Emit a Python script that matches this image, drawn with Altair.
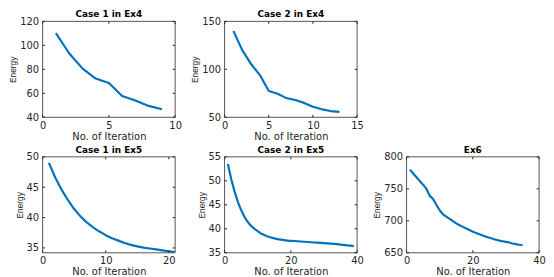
import altair as alt
import pandas as pd

# ---------------- data ----------------
c1_ex4_iter = list(range(1, 10))
c1_ex4_energy = [110.2, 93.4, 80.8, 72.3, 68.6, 57.8, 54.0, 49.5, 46.7]

c2_ex4_iter = list(range(1, 14))
c2_ex4_energy = [140.0, 120.0, 105.5, 94.0, 77.4, 74.5, 70.0, 68.0, 65.0, 61.0, 58.3, 56.5, 55.7]

c1_ex5_iter = list(range(1, 22))
c1_ex5_energy = [49.0, 46.6, 44.6, 42.9, 41.4, 40.2, 39.2, 38.4, 37.7, 37.1, 36.6,
                 36.2, 35.8, 35.5, 35.25, 35.05, 34.9, 34.75, 34.6, 34.45, 34.3]

c2_ex5_iter = list(range(1, 40))
c2_ex5_energy = [53.5, 50.4, 47.8, 45.6, 43.9, 42.5, 41.4, 40.6, 40.0, 39.5,
                 39.0, 38.7, 38.4, 38.2, 38.0, 37.85, 37.75, 37.65, 37.55, 37.5,
                 37.45, 37.4, 37.35, 37.3, 37.25, 37.2, 37.15, 37.1, 37.05, 37.0,
                 36.95, 36.9, 36.85, 36.8, 36.7, 36.65, 36.55, 36.5, 36.4]

ex6_iter = list(range(1, 36))
ex6_energy = [780.0, 774.0, 768.0, 762.0, 756.5, 750.0, 739.0, 734.0, 725.0, 716.5,
              710.0, 706.5, 703.0, 699.5, 696.0, 693.0, 690.5, 688.0, 685.5, 683.0,
              681.0, 679.0, 677.0, 675.0, 673.5, 672.0, 670.5, 669.0, 668.0, 667.0,
              666.0, 664.5, 663.5, 662.5, 662.0]

titles = ["Case 1 in Ex4", "Case 2 in Ex4", "Case 1 in Ex5", "Case 2 in Ex5", "Ex6"]
x_titles = "No. of Iteration"
y_titles = "Energy"

x_domains = [[0, 10], [0, 15], [0, 21], [0, 40], [0, 40]]
x_ticks = [[0, 5, 10], [0, 5, 10, 15], [0, 10, 20], [0, 20, 40], [0, 20, 40]]
y_domains = [[40, 120], [50, 150], [34.2, 50], [35, 55], [650, 800]]
y_ticks = [[40, 60, 80, 100, 120], [50, 100, 150], [35, 40, 45, 50],
           [35, 40, 45, 50, 55], [650, 700, 750, 800]]

# ---------------- style ----------------
BLUE = "#0072BD"
AX = "#262626"
FRAME = "#555555"
FONT = "DejaVu Sans"
W = 134
H = 97
TL = 2.5  # inward tick length


def panel(it, en, k):
    df = pd.DataFrame({"it": it, "en": en})
    x0, x1 = x_domains[k]
    y0, y1 = y_domains[k]
    xs = alt.Scale(domain=x_domains[k], nice=False, zero=False)
    ys = alt.Scale(domain=y_domains[k], nice=False, zero=False)
    xa = alt.Axis(
        values=x_ticks[k], orient="bottom", title=x_titles,
        domain=False, ticks=False, grid=False,
        labelFont=FONT, labelFontSize=10, labelColor=AX, labelPadding=3,
        labelFlush=False, labelOverlap=False,
        titleFont=FONT, titleFontSize=10, titleFontWeight="normal",
        titleColor=AX, titlePadding=1)
    ya = alt.Axis(
        values=y_ticks[k], orient="left", title=y_titles,
        domain=False, ticks=False, grid=False,
        labelFont=FONT, labelFontSize=10, labelColor=AX, labelPadding=4,
        labelFlush=False, labelOverlap=False,
        titleFont="Liberation Sans", titleFontSize=8.5,
        titleFontWeight="normal", titleColor=AX, titlePadding=2)

    line = alt.Chart(df).mark_line(color=BLUE, strokeWidth=2.2, strokeJoin="round",
                                   clip=True).encode(
        x=alt.X("it:Q", scale=xs, axis=xa),
        y=alt.Y("en:Q", scale=ys, axis=ya),
    )

    # box around the plot area (axes limits)
    box = alt.Chart(pd.DataFrame({"a": [0]})).mark_rect(
        fill="transparent", stroke=FRAME, strokeWidth=1
    ).encode(
        x=alt.datum(x0, scale=xs, axis=xa), x2=alt.datum(x1),
        y=alt.datum(y0, scale=ys, axis=ya), y2=alt.datum(y1),
    )

    xt = pd.DataFrame({"t": x_ticks[k]})
    yt = pd.DataFrame({"t": y_ticks[k]})
    tick_bottom = alt.Chart(xt).mark_rule(color=AX, strokeWidth=1, y2Offset=-TL).encode(
        x=alt.X("t:Q", scale=xs, axis=xa),
        y=alt.datum(y0, scale=ys, axis=ya), y2=alt.datum(y0))
    tick_top = alt.Chart(xt).mark_rule(color=AX, strokeWidth=1, y2Offset=TL).encode(
        x=alt.X("t:Q", scale=xs, axis=xa),
        y=alt.datum(y1, scale=ys, axis=ya), y2=alt.datum(y1))
    tick_left = alt.Chart(yt).mark_rule(color=AX, strokeWidth=1, x2Offset=TL).encode(
        y=alt.Y("t:Q", scale=ys, axis=ya),
        x=alt.datum(x0, scale=xs, axis=xa), x2=alt.datum(x0))
    tick_right = alt.Chart(yt).mark_rule(color=AX, strokeWidth=1, x2Offset=-TL).encode(
        y=alt.Y("t:Q", scale=ys, axis=ya),
        x=alt.datum(x1, scale=xs, axis=xa), x2=alt.datum(x1))

    return alt.layer(line, box, tick_bottom, tick_top, tick_left, tick_right).properties(
        width=W, height=H,
        title=alt.TitleParams(titles[k], font=FONT, fontSize=9, fontWeight="bold",
                              color="black", offset=-3, anchor="middle", frame="group"),
    )


p1 = panel(c1_ex4_iter, c1_ex4_energy, 0)
p2 = panel(c2_ex4_iter, c2_ex4_energy, 1)
p3 = panel(c1_ex5_iter, c1_ex5_energy, 2)
p4 = panel(c2_ex5_iter, c2_ex5_energy, 3)
p5 = panel(ex6_iter, ex6_energy, 4)

blank = alt.Chart(pd.DataFrame({"a": [0]})).mark_point(opacity=0).encode(
    x=alt.X("a:Q", axis=None), y=alt.Y("a:Q", axis=None)
).properties(width=W, height=H)

chart = alt.concat(p1, p2, blank, p3, p4, p5, columns=3,
                   spacing={"row": 40, "column": 50},
                   bounds="flush").properties(
    padding=0, background="white"
).configure_view(stroke="transparent")

chart.save("out.html", embed_options={"renderer": "svg", "actions": False})
